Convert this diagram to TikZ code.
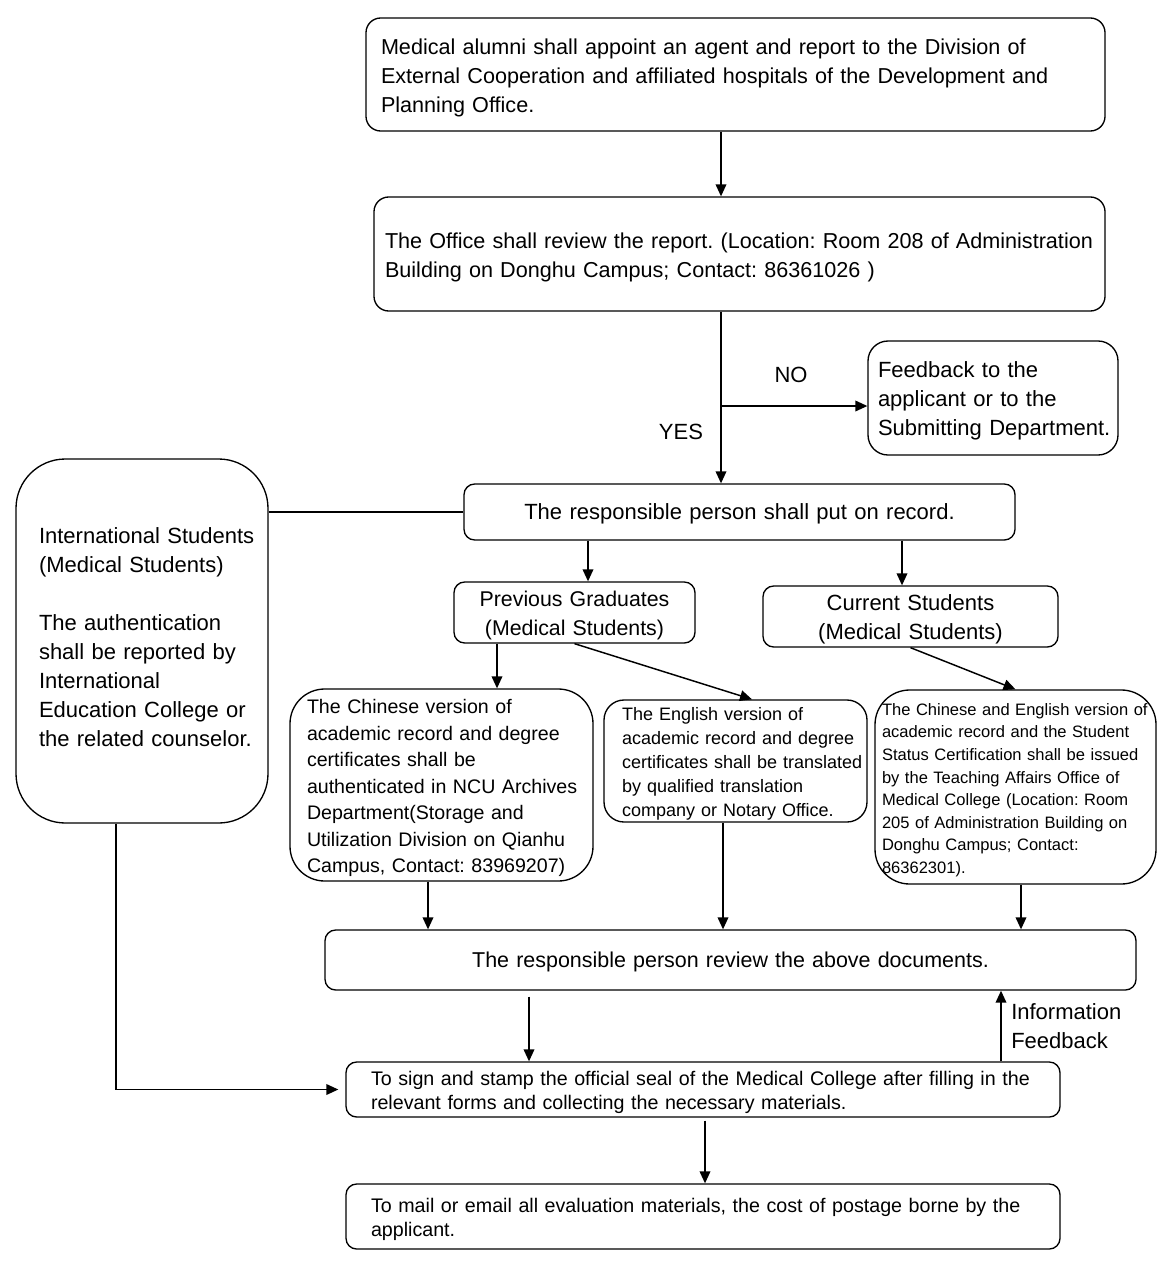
\documentclass[tikz,border=0pt]{standalone}
\usepackage{fontspec}
\setmainfont{Liberation Sans}
\usetikzlibrary{arrows.meta}
\newdimen\pxu \pxu=0.75pt
\tikzset{
  box/.style={draw,line width=1pt,rounded corners=8pt,inner sep=0pt,align=left,
    font=\fontsize{16.5}{21.75}\selectfont,execute at end node={\par\kern-6\pxu}},
  indent/.style={execute at begin node={\leftskip=#1\pxu\rightskip=-30\pxu plus 1fil}},
  arr/.style={-{Triangle[length=9pt,width=8pt]},line width=1.1pt},
  lbl/.style={font=\fontsize{16.5}{21.75}\selectfont,inner sep=0pt},
}
\frenchspacing
\begin{document}
\begin{tikzpicture}[x=0.75pt,y=-0.75pt]
\useasboundingbox (0,0) rectangle (1171,1263);
\node[box,indent=15,text width=739\pxu,minimum height=113\pxu,rounded corners=11pt,
  font=\fontsize{16.2}{21.75}\selectfont] (alumni) at (735.5,74.5)
  {Medical alumni shall appoint an agent and report to the Division of\\External Cooperation and affiliated hospitals of the Development and\\Planning Office.};
\node[box,indent=11,text width=731\pxu,minimum height=114\pxu,rounded corners=11pt,
  font=\fontsize{16.2}{21.75}\selectfont] (review) at (739.5,254)
  {The Office shall review the report. (Location: Room 208 of Administration\\Building on Donghu Campus; Contact: 86361026 )};
\node[box,indent=10,text width=250\pxu,minimum height=114\pxu,rounded corners=15pt] (feedback) at (993,398)
  {Feedback to the\\applicant or to the\\Submitting Department.};
\node[box,align=center,text width=551\pxu,minimum height=56\pxu] (record) at (739.5,512)
  {The responsible person shall put on record.};
\node[box,indent=23,text width=252\pxu,minimum height=364\pxu,rounded corners=37pt,
  execute at end node={\kern14\pxu}] (intl) at (142,641)
  {International Students\\(Medical Students)\\[21.75pt]The authentication\\shall be reported by\\International\\Education College or\\the related counselor.};
\node[box,align=center,text width=241\pxu,minimum height=61\pxu,
  font=\fontsize{16}{21.75}\selectfont] (prev) at (574.5,612.5)
  {Previous Graduates\\(Medical Students)};
\node[box,align=center,text width=295\pxu,minimum height=61\pxu] (curr) at (910.5,616.5)
  {Current Students\\(Medical Students)};
\node[box,indent=17,text width=303\pxu,minimum height=192\pxu,rounded corners=26pt,
  font=\fontsize{14.7}{19.9}\selectfont] (chinese) at (441.5,785)
  {The Chinese version of\\academic record and degree\\certificates shall be\\authenticated in NCU Archives\\Department(Storage and\\Utilization Division on Qianhu\\Campus, Contact: 83969207)};
\node[box,indent=18,text width=263\pxu,minimum height=122\pxu,rounded corners=15pt,
  font=\fontsize{13.5}{18}\selectfont] (english) at (735.5,761)
  {The English version of\\academic record and degree\\certificates shall be translated\\by qualified translation\\company or Notary Office.};
\node[box,indent=7,text width=281\pxu,minimum height=194\pxu,rounded corners=26pt,
  font=\fontsize{12.4}{16.9}\selectfont] (ce) at (1015.5,787)
  {The Chinese and English version of\\academic record and the Student\\Status Certification shall be issued\\by the Teaching Affairs Office of\\Medical College (Location: Room\\205 of Administration Building on\\Donghu Campus; Contact:\\86362301).};
\node[box,align=center,text width=811\pxu,minimum height=60\pxu,
  font=\fontsize{16.1}{21.75}\selectfont] (docs) at (730.5,960)
  {The responsible person review the above documents.};
\node[box,indent=25,text width=714\pxu,minimum height=55\pxu,font=\fontsize{14.75}{18}\selectfont] (sign) at (703,1089.5)
  {To sign and stamp the official seal of the Medical College after filling in the\\relevant forms and collecting the necessary materials.};
\node[box,indent=25,text width=714\pxu,minimum height=65\pxu,font=\fontsize{14.75}{18}\selectfont] (mail) at (703,1216.5)
  {To mail or email all evaluation materials, the cost of postage borne by the\\applicant.};
\node[lbl] (no) at (791,375) {NO};
\node[lbl] (yes) at (681,432) {YES};
\node[lbl,align=left,anchor=west] (info) at (1011,1026) {Information\\Feedback};
\coordinate (split) at (721,406);
\draw[arr] (alumni.south -| split) -- (review.north -| split);
\draw[arr] (review.south -| split) -- (record.north -| split);
\draw[arr] (split) -- (feedback.west |- split);
\draw[line width=1.1pt] (intl.east |- record.west) -- (record.west);
\draw[arr] (record.south -| 588,0) -- (prev.north -| 588,0);
\draw[arr] (record.south -| 902,0) -- (curr.north -| 902,0);
\draw[arr] (prev.south -| 497,0) -- (chinese.north -| 497,0);
\draw[arr] (prev.south) -- (english.north -| 752,0);
\draw[arr] (curr.south) -- (ce.north);
\foreach \n/\x in {chinese/428,english/723,ce/1021}
  \draw[arr] (\n.south -| \x,0) -- (docs.north -| \x,0);
\draw[arr,shorten <=6\pxu] (docs.south -| 529,0) -- (sign.north -| 529,0);
\draw[arr] (sign.north -| 1001,0) -- (docs.south -| 1001,0);
\draw[arr,shorten >=7\pxu] (intl.south -| 116,0) |- (sign.west);
\draw[arr,shorten <=3\pxu] (sign.south -| 705,0) -- (mail.north -| 705,0);
\end{tikzpicture}
\end{document}
